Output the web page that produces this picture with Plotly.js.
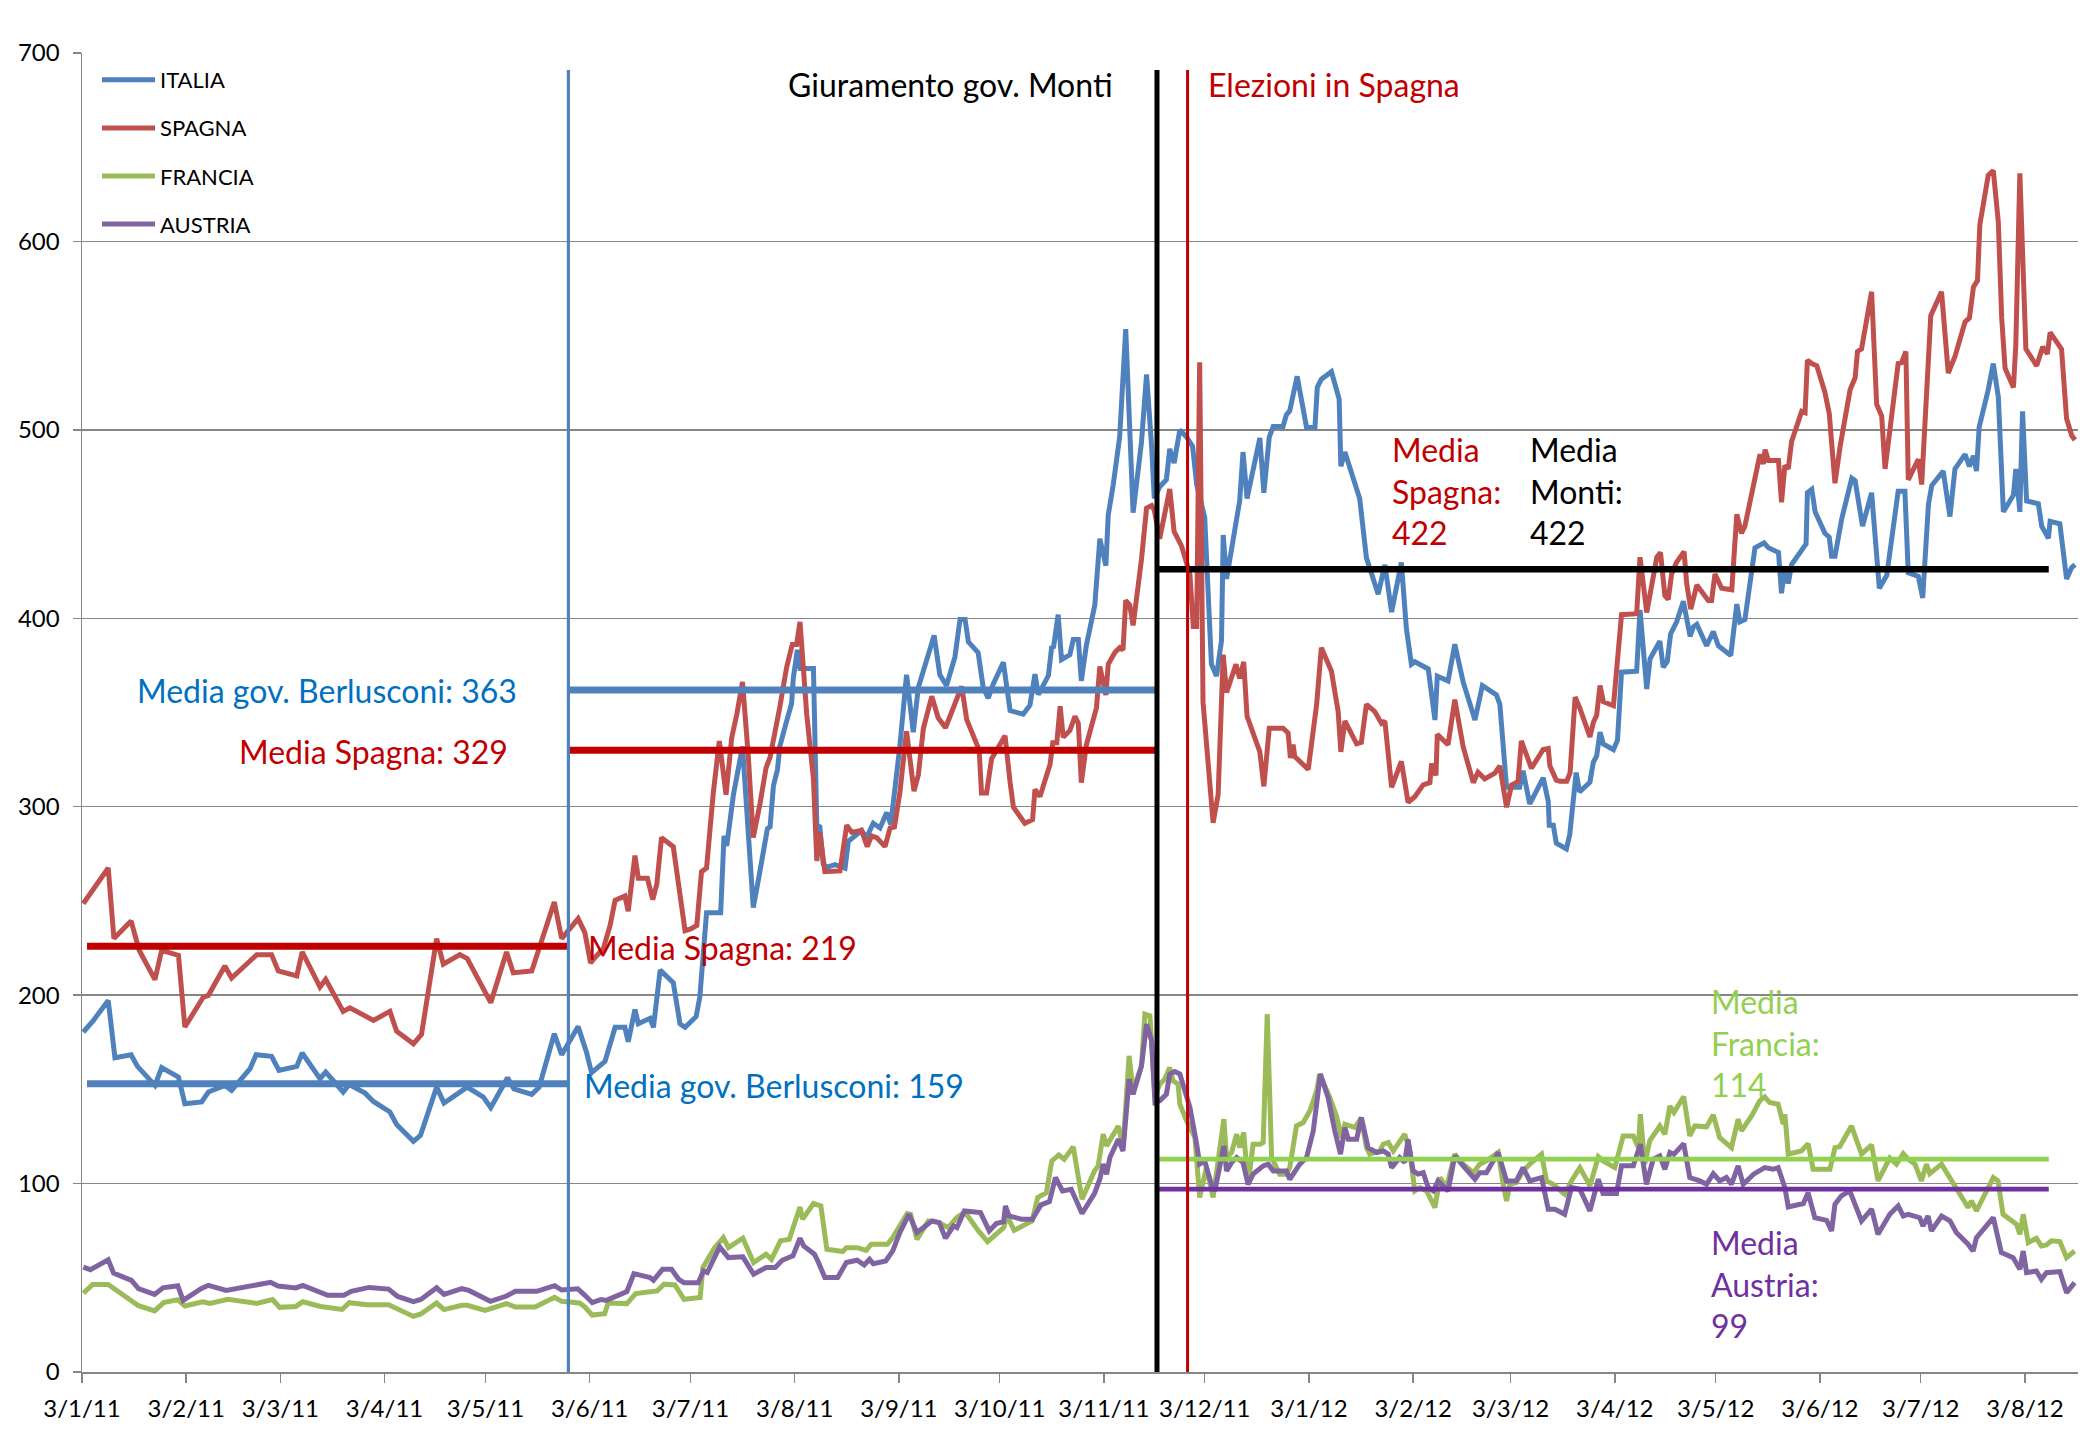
<!DOCTYPE html>
<html><head><meta charset="utf-8">
<script src="https://cdn.plot.ly/plotly-3.0.1.min.js"></script>
<style>html,body{margin:0;padding:0;background:#fff}#chart{width:2080px;height:1440px}</style>
</head><body><div id="chart"></div>
<script>
// x values: days since 2011-01-03 ; y values: spread (punti base)
const italia = [[0.4,180.4],[3.4,186.6],[7.8,197.2],[9.8,166.8],[14.6,168.4],[16.5,162.2],[21.7,152.1],[23.7,161.5],[28.7,156.5],[30.6,142.4],[35.6,143.3],[37.6,148.6],[42.5,152.1],[44.5,149.5],[50.0,161.0],[51.8,168.4],[56.4,167.5],[58.6,160.1],[63.9,162.2],[65.5,169.3],[70.8,155.7],[72.5,159.2],[77.7,148.6],[79.5,152.6],[84.2,148.0],[86.7,143.6],[91.6,138.0],[93.6,131.4],[98.6,122.4],[100.7,125.6],[105.5,151.2],[107.7,142.7],[114.6,151.2],[119.4,145.9],[121.6,140.3],[126.6,156.2],[128.5,150.3],[133.8,147.3],[136.0,151.2],[140.5,179.5],[142.7,168.4],[147.6,183.4],
[150.1,169.6],[151.6,158.8],[153.1,161.1],[155.6,164.9],[158.6,182.9],[161.5,182.9],[162.5,175.3],[164.5,192.4],[165.5,184.8],[169.0,187.7],[170.0,182.9],[172.0,213.3],[175.9,206.6],[177.9,184.8],[179.4,182.9],[182.7,188.6],[183.8,199.1],[185.8,243.7],[190.0,243.7],[191.0,284.5],[191.8,279.2],[193.8,306.4],[196.5,332.0],[198.2,286.4],[199.7,246.5],[201.7,265.9],[203.9,288.3],[204.7,289.3],[205.7,311.1],[206.9,319.7],[207.6,332.0],[209.6,345.3],[211.1,354.8],[211.6,368.1],[212.8,383.3],[213.6,373.4],[217.6,373.4],[218.6,290.2],[219.5,289.3],[220.5,269.7],[221.5,267.8],[224.0,269.3],[227.0,267.4],[228.0,281.7],[231.9,287.4],[233.4,283.6],[235.4,291.2],[237.4,288.7],[239.4,296.9],[240.6,290.6],[241.9,309.2],[243.3,332.0],[245.3,370.0],[247.3,339.6],[248.8,363.3],[251.3,377.6],[253.5,390.9],[255.2,370.0],[257.2,364.3],[259.7,379.5],[261.2,399.4],[262.7,399.4],[263.7,387.5],[266.6,381.8],[268.1,363.3],[269.6,357.6],[271.1,365.2],[274.1,376.6],[276.1,351.0],[280.0,349.1],[282.0,353.8],[283.5,370.4],[284.5,359.5],[287.5,369.6],[288.5,385.2],[289.0,384.2],[290.4,401.9],
[291.4,378.1],[293.9,380.7],[294.9,388.7],[296.4,388.7],[297.3,366.8],[298.8,385.7],[301.3,407.0],[302.8,442.2],[304.6,427.9],[305.3,454.8],[306.8,471.1],[308.7,496.2],[310.5,553.5],[312.7,456.0],[315.2,493.7],[316.7,529.4],[318.2,491.2],[319.0,463.6],[320.6,469.8],[322.6,473.6],[323.6,489.9],[324.9,482.4],[326.6,500.0],[328.6,496.2],[330.4,491.2],[331.6,471.1],[334.0,453.5],[336.0,375.6],[337.5,369.3],[339.0,388.2],[339.5,444.2],[340.5,420.9],[344.4,462.3],[345.4,488.2],[346.6,463.6],[350.4,495.7],[351.6,466.6],[353.2,496.2],[354.4,501.8],[357.3,501.8],[358.3,508.0],[359.3,510.1],[361.5,528.4],[364.3,501.3],[366.8,501.3],[367.5,522.6],[368.7,526.9],[371.7,530.9],[374.0,516.3],[374.5,480.7],[375.7,488.2],[378.7,472.4],[380.1,463.6],[382.1,432.2],[383.6,423.4],[385.6,412.8],[387.6,428.4],[389.6,403.3],[392.5,429.6],[394.0,394.5],[395.5,375.6],[396.5,376.9],[400.5,373.1],[402.5,346.0],[403.2,369.3],[406.4,366.8],[408.4,386.2],[410.9,366.1],[414.4,346.0],[416.6,364.3],[420.8,359.3],[421.8,354.3],[423.8,310.3],[427.7,310.3],[428.7,319.1],[430.7,301.5],[434.7,315.3],[436.2,302.8],[436.5,290.2],[437.7,290.2],[438.6,280.7],[441.6,277.6],[442.6,285.2],
[444.5,318.1],[445.5,307.9],[448.6,313.0],[449.6,323.6],[450.6,326.9],[451.6,339.6],[452.6,333.3],[455.6,330.3],[456.8,335.3],[458.0,371.4],[462.5,371.9],[463.5,404.4],[465.5,362.5],[466.5,378.5],[469.4,387.9],[470.4,374.0],[471.6,377.0],[472.6,391.7],[474.4,398.1],[476.4,409.0],[478.4,390.4],[479.4,395.5],[480.4,396.8],[483.3,385.4],[485.3,393.0],[486.8,385.4],[489.3,381.6],[490.5,380.3],[492.3,407.5],[493.2,398.1],[494.7,399.3],[497.7,437.4],[499.0,438.7],[500.4,440.0],[501.7,437.4],[504.7,434.9],[505.6,413.3],[506.6,427.3],[507.6,418.4],[508.6,428.5],[512.9,439.5],[513.3,466.6],[514.6,468.4],[515.6,456.5],[518.5,445.1],[519.8,443.0],[520.5,432.9],[521.5,432.9],[523.5,452.7],[526.5,474.3],[527.5,473.0],[529.7,448.9],[532.4,466.6],[534.7,415.9],[536.9,422.7],[540.3,467.4],[542.3,467.4],[543.3,424.2],[546.3,422.2],[547.6,410.8],[549.3,460.3],[550.3,470.5],[553.7,478.1],[555.7,454.0],[557.2,479.3],[560.2,487.0],[561.5,480.6],[562.7,486.2],[563.6,478.1],[564.4,501.4],[567.1,521.3],[568.6,535.2],[570.1,517.4],[571.6,456.5],[574.6,465.4],[575.3,479.3],[576.5,456.5],[577.3,509.8],[578.5,462.3],[582.0,460.8],[583.0,448.9],[585.0,442.5],[585.5,451.4],[588.4,450.1],[590.4,420.9],[591.9,426.8],[592.9,428.5]];

const spagna = [[0.4,248.6],[3.4,256.5],[7.8,267.5],[9.5,230.0],[14.6,239.4],[17.0,223.8],[21.7,208.2],[23.7,223.8],[28.7,221.1],[30.6,183.1],[36.1,199.0],[37.6,199.9],[42.5,215.5],[44.5,209.1],[50.0,217.6],[52.0,221.5],[56.4,221.5],[58.4,212.8],[63.9,210.2],[65.5,222.9],[70.8,204.3],[72.5,208.4],[77.7,191.4],[79.7,193.3],[86.7,186.6],[91.6,191.4],[93.6,180.8],[98.6,174.2],[101.0,179.2],[105.5,230.0],[107.5,216.4],[112.4,221.5],[114.6,219.4],[121.6,196.0],[126.3,222.9],[128.3,211.9],[133.8,212.8],[140.5,249.4],[142.7,230.0],[144.7,234.4],[147.6,240.6],
[149.6,233.2],[151.3,217.1],[153.1,220.9],[155.1,224.7],[157.1,237.0],[158.6,250.3],[161.5,252.6],[162.5,244.6],[164.5,274.1],[165.5,262.1],[168.2,262.1],[169.8,250.7],[171.0,258.9],[172.4,283.6],[175.9,278.8],[177.9,254.1],[179.4,234.2],[181.1,235.1],[182.9,237.0],[184.3,265.5],[185.8,267.4],[187.8,307.3],[189.6,334.9],[191.6,306.4],[193.3,336.8],[194.8,349.1],[196.5,366.2],[198.2,327.3],[199.7,283.6],[201.7,301.6],[203.5,320.6],[204.7,326.3],[206.2,338.7],[207.6,352.9],[209.6,373.8],[211.3,386.1],[212.6,386.1],[213.6,398.1],[215.6,349.1],[217.6,314.9],[218.6,271.2],[219.5,286.4],[221.0,265.5],[223.5,265.5],[225.5,265.9],[227.5,290.2],[229.0,286.4],[231.9,287.4],[233.6,278.8],[234.9,284.5],[236.4,283.6],[238.9,278.8],[240.4,288.7],[241.7,289.3],[243.3,307.3],[245.3,340.0],[247.5,308.3],[248.8,316.8],[250.3,341.5],[252.8,358.6],[254.7,347.2],[256.9,341.9],[259.2,352.9],[261.7,363.9],[263.2,346.2],[265.2,337.7],[266.9,330.1],[267.6,307.3],[269.1,307.3],[270.6,325.4],[274.6,337.7],[276.1,313.0],[277.1,299.7],[280.5,291.2],[282.8,293.1],[283.5,309.2],[285.0,305.4],[288.0,322.5],[288.8,333.9],[290.0,333.9],[291.0,353.3],[291.9,336.8],
[293.9,340.5],[295.4,348.0],[296.4,344.2],[297.3,312.8],[298.8,332.9],[301.8,352.5],[302.8,374.4],[304.6,359.3],[305.3,375.6],[307.3,381.9],[308.7,384.4],[309.7,383.2],[310.5,409.5],[311.7,407.0],[312.7,396.2],[315.2,431.4],[316.7,458.5],[318.2,459.8],[319.0,457.3],[320.6,442.2],[323.6,468.6],[324.9,446.0],[326.1,442.2],[327.1,438.4],[329.6,423.4],[330.6,395.7],[331.6,395.7],[332.5,535.9],[333.5,355.5],[336.5,291.5],[338.0,306.5],[339.5,380.7],[340.5,360.6],[342.0,368.1],[343.3,375.6],[344.4,368.1],[345.6,376.9],[346.6,348.0],[350.4,329.1],[351.6,310.8],[353.2,341.7],[357.3,341.7],[358.8,339.2],[359.5,325.9],[360.3,332.9],[360.8,326.6],[364.8,319.8],[367.3,354.3],[368.7,384.4],[371.7,371.9],[373.7,350.5],[374.5,329.1],[375.7,345.5],[379.2,333.4],[380.6,334.2],[382.1,354.3],[384.6,350.5],[386.6,344.2],[387.6,345.5],[389.6,310.3],[392.5,324.1],[394.5,302.3],[396.5,305.3],[399.0,311.6],[401.0,312.8],[401.5,322.9],[402.8,316.6],[403.2,338.4],[406.4,332.9],[408.4,356.8],[410.9,331.7],[413.9,312.8],[415.3,318.3],[417.3,314.8],[420.3,317.8],[421.8,321.6],[423.8,299.7],[425.3,311.6],[427.2,313.3],[428.2,334.9],[431.2,320.4],[434.7,330.4],[436.2,330.9],[436.7,321.6],[438.6,314.1],
[439.7,313.5],[441.7,313.5],[442.7,318.1],[444.2,358.2],[445.6,352.3],[448.6,337.1],[449.6,344.7],[450.6,348.5],[451.6,364.3],[452.6,355.7],[455.6,353.6],[457.1,389.2],[458.0,401.9],[462.5,402.4],[463.5,432.4],[465.5,403.1],[468.5,432.4],[469.6,434.9],[470.9,412.0],[471.9,410.0],[472.9,423.5],[474.4,429.8],[476.6,435.4],[477.4,418.4],[478.6,404.9],[480.4,417.6],[483.8,409.5],[484.8,409.5],[485.8,423.5],[487.8,415.9],[490.8,415.1],[492.3,455.2],[493.7,445.1],[494.7,448.9],[498.2,480.6],[499.2,487.0],[500.2,481.9],[500.7,489.5],[501.7,483.7],[504.7,483.7],[505.6,461.6],[506.6,481.1],[507.6,479.3],[508.6,493.8],[511.6,509.8],[512.6,509.1],[513.3,537.0],[514.6,535.2],[516.1,534.0],[518.5,520.0],[519.8,508.6],[521.5,471.7],[523.0,490.8],[526.0,521.3],[527.5,527.6],[528.2,541.6],[529.4,542.9],[532.4,573.3],[533.9,513.6],[535.4,507.3],[536.4,479.3],[538.9,516.2],[540.3,535.2],[541.3,535.7],[542.6,541.6],[543.3,473.5],[546.3,484.4],[547.3,471.0],[548.8,516.2],[550.0,560.6],[553.2,573.3],[555.2,530.2],[557.2,539.0],[560.2,557.3],[561.5,559.4],[562.7,575.9],[563.9,579.2],[564.6,608.9],[567.1,635.1],[568.6,637.6],[570.1,610.2],[571.1,559.4],[572.1,532.7],[574.6,522.5],[575.3,545.4],[576.5,636.1],[578.3,542.9],[581.5,534.0],[583.3,544.1],[584.7,540.3],[585.5,551.7],[588.9,542.9],[590.4,506.0],[591.9,497.1],[592.9,494.6]];

const francia = [[0.4,41.9],[3.2,46.5],[7.8,46.5],[10.0,43.7],[14.7,38.4],[16.8,35.2],[21.6,32.4],[24.3,36.8],[28.5,38.4],[30.6,35.0],[35.9,37.3],[38.1,36.4],[43.4,38.6],[47.6,37.8],[51.9,36.4],[56.7,38.4],[58.8,34.3],[63.6,34.8],[65.7,37.3],[71.0,34.8],[77.4,33.2],[79.5,36.8],[84.8,35.7],[91.2,35.7],[93.9,33.4],[98.6,29.5],[100.8,30.8],[105.5,36.6],[107.7,33.1],[113.0,35.4],[114.6,35.4],[119.9,32.7],[126.3,36.3],[128.9,34.5],[134.8,34.5],[140.6,39.6],[142.7,37.5],[148.0,36.6],[149.6,34.5],[151.8,30.2],[155.5,30.9],[156.5,36.6],
[162.1,36.3],[164.7,41.6],[171.1,43.0],[173.2,46.6],[176.4,46.2],[179.1,38.6],[183.9,39.5],[184.7,55.4],[188.1,65.7],[190.8,71.3],[192.3,66.0],[196.6,71.0],[199.8,58.1],[203.5,62.5],[205.1,59.8],[207.8,69.6],[210.4,70.4],[213.6,87.6],[214.4,81.1],[217.6,89.4],[219.8,88.1],[221.6,65.1],[226.3,63.9],[227.4,66.0],[230.6,66.0],[233.3,64.6],[234.8,67.8],[239.6,67.8],[241.2,71.3],[245.5,84.1],[246.5,83.7],[248.4,70.4],[251.8,80.2],[255.0,79.3],[257.7,76.6],[260.3,82.0],[262.5,84.6],[263.5,82.8],[266.7,74.9],[269.4,69.2],[274.2,76.6],[275.2,82.8],[277.3,75.2],[282.7,80.2],[284.3,92.6],[286.9,95.2],[288.5,112.0],[290.6,115.2],[292.2,112.9],[294.9,119.5],[297.5,91.7],[301.2,106.7],[302.3,109.4],
[303.8,126.2],[304.8,120.0],[308.3,130.6],[309.7,119.1],[311.5,167.8],[312.7,149.2],[315.2,162.5],[316.2,189.9],[317.7,189.0],[319.2,145.7],[320.6,152.7],[322.1,155.4],[323.6,161.6],[324.6,154.5],[326.1,152.7],[326.6,142.1],[328.6,133.3],[331.1,124.4],[332.5,92.6],[334.5,108.5],[336.5,92.6],[339.7,134.2],[340.5,113.8],[342.0,116.5],[343.5,126.2],[344.4,119.1],[345.6,127.1],[346.9,99.6],[348.4,120.9],[350.4,120.9],[351.4,121.8],[352.6,189.9],[353.9,113.8],[356.3,105.0],[358.3,105.0],[359.3,108.5],[361.3,130.6],[363.3,132.4],[365.3,138.6],[367.3,149.2],[368.2,158.1],[371.2,145.7],[373.2,135.9],[374.7,124.4],[375.7,131.5],[378.7,129.7],[380.6,135.0],[382.1,119.1],[383.1,115.6],[386.1,117.3],[387.1,120.9],[388.6,121.8],[390.1,117.3],[393.5,126.2],[395.0,117.3],[396.5,96.1],[398.0,97.9],[400.0,96.1],[402.5,87.3],[404.0,103.2],[405.9,97.9],[408.4,115.6],[410.9,110.3],[413.9,105.8],[415.8,110.3],[417.8,112.0],[421.3,116.5],[422.8,99.6],[423.8,90.8],[424.8,99.6],[426.7,100.5],[428.7,106.7],[430.7,110.3],[434.2,115.6],[435.7,101.4],[437.7,99.6],[441.1,94.3],[443.1,101.4],
[445.6,108.5],[448.6,98.8],[451.1,114.2],[452.5,112.0],[456.0,108.5],[458.5,125.3],[461.5,125.3],[463.0,119.1],[463.6,136.8],[464.9,110.3],[466.4,122.7],[469.4,130.6],[470.9,126.2],[472.4,141.2],[473.6,137.7],[476.5,146.2],[478.3,125.3],[479.8,130.6],[483.3,130.1],[485.3,136.5],[487.2,124.4],[490.7,119.1],[492.7,134.2],[493.7,128.0],[496.7,135.9],[499.1,143.9],[500.6,146.0],[502.1,143.0],[504.6,142.1],[506.1,131.5],[506.6,136.8],[507.6,115.6],[511.5,117.3],[513.5,121.2],[515.0,107.6],[518.5,107.6],[520.0,107.6],[521.5,119.1],[522.9,119.5],[526.4,130.6],[529.4,115.6],[532.4,120.5],[534.3,101.4],[537.8,113.5],[539.8,110.3],[541.8,115.9],[543.3,112.9],[545.3,110.3],[547.2,101.4],[548.7,110.3],[549.7,105.3],[553.2,110.3],[556.7,99.6],[561.1,87.3],[562.1,90.8],[563.6,85.5],[566.6,96.1],[568.6,103.2],[570.0,101.4],[571.5,83.7],[575.5,78.4],[576.5,73.1],[577.5,83.7],[579.0,68.7],[581.4,71.0],[582.9,66.9],[584.4,67.4],[585.9,69.6],[588.4,69.2],[590.4,60.7],[592.8,64.2]];

const austria = [[0.4,55.7],[2.5,54.3],[7.8,59.6],[9.4,52.5],[14.7,48.6],[16.8,44.2],[21.6,41.2],[24.1,44.7],[28.5,45.8],[30.1,38.0],[35.4,44.2],[37.6,46.0],[42.9,43.3],[49.8,45.5],[56.1,47.6],[58.3,45.6],[63.6,44.6],[65.7,46.0],[71.5,41.6],[73.1,40.7],[77.9,40.7],[80.1,42.8],[85.4,44.9],[91.2,44.0],[93.9,40.1],[98.6,37.3],[100.8,38.5],[105.5,44.7],[107.7,41.2],[113.0,44.2],[115.1,43.3],[121.5,37.5],[126.3,40.3],[128.9,42.8],[135.3,42.8],[140.6,45.8],[142.7,43.5],[147.5,44.2],[149.6,40.7],[151.8,36.8],[154.4,38.5],[156.0,38.0],
[162.1,42.7],[164.2,52.2],[169.0,50.1],[170.0,48.7],[172.7,54.5],[175.4,54.5],[177.5,49.2],[179.1,47.4],[183.3,47.4],[184.9,53.6],[186.0,52.8],[189.7,66.4],[192.3,60.7],[196.6,61.1],[199.8,51.9],[203.5,55.4],[206.2,55.4],[208.3,59.3],[211.5,61.6],[213.6,71.0],[214.7,66.9],[217.9,62.5],[219.1,58.1],[221.0,50.1],[224.8,50.1],[227.4,58.1],[230.6,59.3],[232.7,56.8],[234.3,59.8],[235.4,57.5],[239.1,58.9],[241.2,64.3],[243.3,74.0],[246.0,83.7],[248.4,74.0],[252.9,80.2],[255.0,79.3],[256.9,71.0],[259.3,77.5],[260.3,76.6],[262.5,85.5],[267.3,84.6],[269.9,74.9],[272.0,78.8],[274.2,79.8],[274.7,88.1],[275.8,82.8],[279.5,81.1],[282.7,81.1],[285.3,88.7],[287.8,90.4],[289.6,103.2],[291.7,96.1],[294.3,97.0],[297.5,84.1],[301.2,94.7],[302.8,102.3],
[303.8,110.3],[304.8,105.0],[305.8,113.8],[308.3,123.5],[309.7,117.3],[311.5,155.4],[312.7,147.4],[315.2,162.5],[316.7,184.6],[318.2,175.8],[319.2,143.0],[320.6,143.9],[322.6,147.4],[323.6,158.1],[325.1,159.5],[326.6,158.1],[328.1,149.2],[329.6,140.4],[331.6,120.9],[332.5,110.3],[334.0,112.0],[336.0,99.6],[337.0,96.1],[339.7,120.0],[340.5,106.7],[342.0,111.2],[343.5,113.8],[345.4,111.2],[346.9,99.6],[348.4,105.0],[351.4,109.4],[352.9,110.3],[354.4,106.7],[358.3,106.7],[359.3,102.3],[362.3,110.3],[364.3,113.8],[366.3,128.0],[368.4,158.1],[370.7,145.7],[372.7,128.0],[374.4,115.6],[375.7,129.7],[376.7,123.5],[379.2,123.5],[380.6,135.0],[382.6,119.1],[385.1,116.5],[387.1,117.3],[388.6,115.6],[389.6,108.5],[392.0,113.8],[393.5,111.2],[394.5,123.5],[396.0,106.7],[397.5,105.0],[399.0,105.8],[400.5,97.9],[402.0,96.1],[403.4,101.4],[406.4,96.1],[408.4,114.7],[410.9,109.4],[414.4,102.3],[415.8,105.8],[417.8,105.8],[421.3,116.5],[423.8,101.4],[426.7,101.4],[428.7,108.5],[430.7,101.4],[434.2,103.2],[436.2,86.4],[438.2,86.4],[441.1,83.7],[443.1,97.9],
[445.6,97.0],[448.6,85.5],[451.1,102.3],[452.5,94.7],[456.5,94.7],[458.0,109.4],[461.5,109.4],[463.6,120.9],[465.4,99.6],[467.4,112.9],[469.4,114.7],[470.9,107.6],[472.4,116.5],[473.6,115.6],[476.5,121.2],[478.3,103.2],[481.3,101.4],[483.3,99.6],[485.3,105.3],[487.2,101.4],[489.2,103.2],[490.7,99.6],[492.7,109.4],[494.2,99.6],[497.3,105.0],[499.7,107.1],[500.6,108.5],[503.1,107.6],[504.6,108.5],[506.6,97.9],[507.6,87.6],[512.1,89.4],[513.5,95.2],[515.5,81.9],[519.0,80.5],[520.5,74.9],[521.5,89.0],[523.4,93.5],[525.9,96.1],[529.4,80.2],[532.4,86.4],[534.3,73.1],[537.8,83.7],[540.3,88.1],[541.8,82.8],[543.3,83.7],[546.7,81.9],[547.7,77.5],[549.2,82.8],[550.2,74.9],[553.2,82.8],[555.7,80.2],[557.6,74.0],[561.1,67.8],[562.6,64.2],[563.6,71.3],[566.6,77.5],[568.6,81.9],[571.0,63.4],[574.5,60.7],[576.5,54.5],[577.5,64.2],[578.5,52.7],[581.4,53.6],[582.9,49.2],[584.4,52.7],[588.4,53.3],[590.4,42.1],[592.8,47.4]];

// Period averages (horizontal segments), in days since 2011-01-03
const avgValues = [226, 153, 362, 330, 426, 113, 97];
const avgFrom   = [1.5, 1.5, 144.6, 144.6, 320.4, 320.4, 320.4];
const avgTo     = [144.3, 144.3, 319.8, 319.8, 585.1, 585.1, 585.1];
// Event lines (days) and their top value
const eventDays = [144.7, 319.8, 328.9];
const eventTop = 691;

const tickDates  = ['2011-01-03','2011-02-03','2011-03-03','2011-04-03','2011-05-03','2011-06-03','2011-07-03','2011-08-03','2011-09-03','2011-10-03','2011-11-03','2011-12-03','2012-01-03','2012-02-03','2012-03-03','2012-04-03','2012-05-03','2012-06-03','2012-07-03','2012-08-03'];
const tickLabels = ['3/1/11','3/2/11','3/3/11','3/4/11','3/5/11','3/6/11','3/7/11','3/8/11','3/9/11','3/10/11','3/11/11','3/12/11','3/1/12','3/2/12','3/3/12','3/4/12','3/5/12','3/6/12','3/7/12','3/8/12'];

const seriesNames = ['ITALIA','SPAGNA','FRANCIA','AUSTRIA'];

// ---------- styling ----------
const BASE = Date.UTC(2011,0,3);
function toDate(d){ return new Date(BASE + d*86400000).toISOString().replace('T',' ').slice(0,19); }
const FONT = 'Lato, "Open Sans", sans-serif';
const seriesColors = ['#4F81BD','#C0504D','#9BBB59','#8064A2'];
const avgColors = ['#C00000','#4F81BD','#4F81BD','#C00000','#000000','#92D050','#7030A0'];
const avgWidths = [7,7,7,7,6.5,4.7,4.7];
const eventColors = ['#4F81BD','#000000','#C00000'];
const eventWidths = [3.2,5,3];

const data = [italia, spagna, francia, austria].map((s,i)=>({
  type:'scatter', mode:'lines', name: seriesNames[i],
  legendgroup: 'g'+i,
  x: s.map(p=>toDate(p[0])), y: s.map(p=>p[1]),
  line:{color:seriesColors[i], width:5}, hoverinfo:'x+y+name'
}));

const shapes = [];
avgValues.forEach((v,i)=>shapes.push({type:'line', xref:'x', yref:'y', x0:toDate(avgFrom[i]), x1:toDate(avgTo[i]), y0:v, y1:v, line:{color:avgColors[i], width:avgWidths[i]}, layer:'above'}));
eventDays.forEach((d,i)=>shapes.push({type:'line', xref:'x', yref:'y', x0:toDate(d), x1:toDate(d), y0:0, y1:eventTop, line:{color:eventColors[i], width:eventWidths[i]}, layer:'above'}));

// plot area in px: left 82, width 1996, top 53, height 1319
const PX = x => (x-82)/1996, PY = y => (1372-y)/1319;
function ann(text,color,x,y){ return {text, xref:'paper', yref:'paper', x:PX(x), y:PY(y), xanchor:'left', yanchor:'middle', align:'left', showarrow:false, font:{family:FONT, size:32, color}}; }
const annotations = [
  ann('Giuramento gov. Monti','#000000',786,84),
  ann('Elezioni in Spagna','#C00000',1206,85),
  ann('Media gov. Berlusconi: 363','#0070C0',135,690),
  ann('Media Spagna: 329','#C00000',237,752),
  ann('Media Spagna: 219','#C00000',586,947),
  ann('Media gov. Berlusconi: 159','#0070C0',582,1085),
  ann('Media<br>Spagna:<br>422','#C00000',1390,491),
  ann('Media<br>Monti:<br>422','#000000',1528,491),
  ann('Media<br>Francia:<br>114','#92D050',1709,1043),
  ann('Media<br>Austria:<br>99','#7030A0',1709,1284)
];

const layout = {
  width:2080, height:1440,
  margin:{l:82, r:2, t:53, b:68, pad:0},
  paper_bgcolor:'#ffffff', plot_bgcolor:'#ffffff',
  font:{family:FONT, color:'#000'},
  showlegend:true,
  legend:{x:PX(97), y:PY(59), xanchor:'left', yanchor:'top', bgcolor:'rgba(0,0,0,0)', borderwidth:0,
          itemwidth:53, font:{family:FONT, size:22, color:'#000'}, tracegroupgap:16.5, traceorder:'grouped'},
  xaxis:{type:'date', range:[toDate(0), toDate(593.8)], tickmode:'array', tickvals:tickDates, ticktext:tickLabels,
         showgrid:false, zeroline:false, showline:true, linecolor:'#868686', linewidth:1.5,
         ticks:'outside', ticklen:9, tickwidth:1.5, tickcolor:'#868686', ticklabelstandoff:6,
         tickfont:{family:FONT, size:24, color:'#000'}},
  yaxis:{range:[0,700], dtick:100, tick0:0, showgrid:true, gridcolor:'#868686', gridwidth:1.5,
         zeroline:false, showline:true, linecolor:'#868686', linewidth:1.5,
         ticks:'outside', ticklen:8, tickwidth:1.5, tickcolor:'#868686', ticklabelstandoff:8,
         tickfont:{family:FONT, size:24, color:'#000'}},
  shapes, annotations
};

Plotly.newPlot('chart', data, layout, {displayModeBar:false, staticPlot:true});
</script>
</body></html>
